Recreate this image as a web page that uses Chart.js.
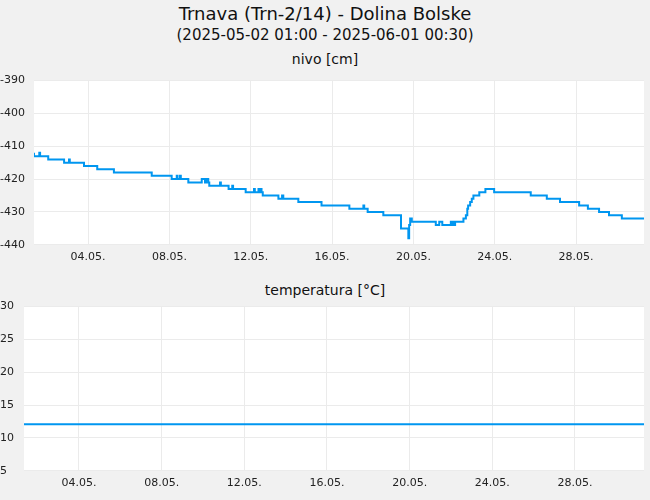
<!DOCTYPE html>
<html><head><meta charset="utf-8">
<script src="https://cdn.jsdelivr.net/npm/chart.js@4"></script>
<style>
body{margin:0;background:#f1f1f1;width:650px;height:500px;overflow:hidden;font-family:"DejaVu Sans",sans-serif;color:#111;position:relative}
.t{position:absolute;left:0;width:650px;text-align:center}
canvas{position:absolute;left:0}
</style></head><body>
<div class="t" style="top:3px;font-size:18px">Trnava (Trn-2/14) - Dolina Bolske</div>
<div class="t" style="top:26px;font-size:15px">(2025-05-02 01:00 - 2025-06-01 00:30)</div>
<div class="t" style="top:51px;font-size:14px">nivo [cm]</div>
<div class="t" style="top:282px;font-size:14px">temperatura [°C]</div>
<div style="position:absolute;top:70px;left:0;width:650px;height:200px"><canvas id="c1"></canvas></div>
<div style="position:absolute;top:296px;left:0;width:650px;height:200px"><canvas id="c2"></canvas></div>
<script>
const tickDays=[2.66,6.66,10.66,14.66,18.66,22.66,26.66];
const tickLabels=["04.05.","08.05.","12.05.","16.05.","20.05.","24.05.","28.05."];
const levelDays=[0,0.26,0.3,0.70,1.48,1.72,1.76,2.46,3.11,3.93,5.79,6.77,7.02,7.06,7.18,7.22,7.59,8.25,8.41,8.47,8.57,8.62,9.15,9.19,9.57,9.75,9.79,10.41,10.82,10.86,11.04,11.08,11.15,11.19,11.25,12.02,12.2,12.26,13.0,14.14,15.51,16.2,16.24,16.41,17.18,18.05,18.41,18.45,18.5,18.58,19.76,19.93,20.08,20.5,20.54,20.62,20.66,20.71,21.12,21.24,21.31,21.35,21.45,21.53,21.61,21.90,22.20,22.63,24.43,25.22,25.87,26.81,27.24,27.79,28.28,28.91,29.60,30];
const levelVals=[-412,-413,-412,-413,-414,-415,-414,-415,-416,-417,-418,-419,-420,-419,-420,-419,-420,-421,-420,-421,-420,-421,-422,-421,-422,-423,-422,-423,-424,-423,-424,-423,-424,-423,-424,-425,-426,-425,-426,-427,-428,-429,-428,-429,-430,-431,-435,-438,-434,-432,-433,-434,-433,-434,-433,-434,-433,-434,-433,-432,-431,-429,-428,-427,-426,-425,-424,-423,-424,-425,-426,-427,-428,-429,-430,-431,-432,-432];
const tempDays=[0,30];
const tempVals=[12.1,12.1];
const lineColor='rgb(0,150,240)';
const bg={id:'bg',beforeDraw(c){const a=c.chartArea,x=c.ctx;x.save();x.fillStyle='#fff';x.fillRect(a.left,a.top,a.right-a.left,a.bottom-a.top);x.restore();}};
Chart.defaults.font.family='"DejaVu Sans", sans-serif';
Chart.defaults.font.size=11;
Chart.defaults.color='#222';
function mk(id,days,vals,ymin,ymax,step,yw){
  new Chart(document.getElementById(id),{type:'line',
   data:{datasets:[{data:days.map((d,i)=>({x:d,y:vals[i]})),borderColor:lineColor,borderWidth:2,pointRadius:0,stepped:'after',fill:false}]},
   options:{responsive:true,maintainAspectRatio:false,animation:false,
    layout:{padding:{top:5,right:6,bottom:0,left:0}},
    plugins:{legend:{display:false},tooltip:{enabled:false}},
    scales:{
     x:{type:'linear',min:0,max:30,border:{display:false},grid:{color:'#ebebeb',drawTicks:false},
        afterBuildTicks:a=>{a.ticks=tickDays.map(v=>({value:v}));},
        ticks:{padding:6,maxRotation:0,autoSkip:false,callback:(v,i)=>tickLabels[i]}},
     y:{min:ymin,max:ymax,border:{display:false},grid:{color:'#ebebeb',drawTicks:false},
        afterFit:s=>{s.width=yw;},
        ticks:{stepSize:step,crossAlign:'far',padding:4}}
    }},plugins:[bg]});
}
mk('c1',levelDays,levelVals,-440,-390,10,34);
mk('c2',tempDays,tempVals,5,30,5,24);
</script></body></html>
